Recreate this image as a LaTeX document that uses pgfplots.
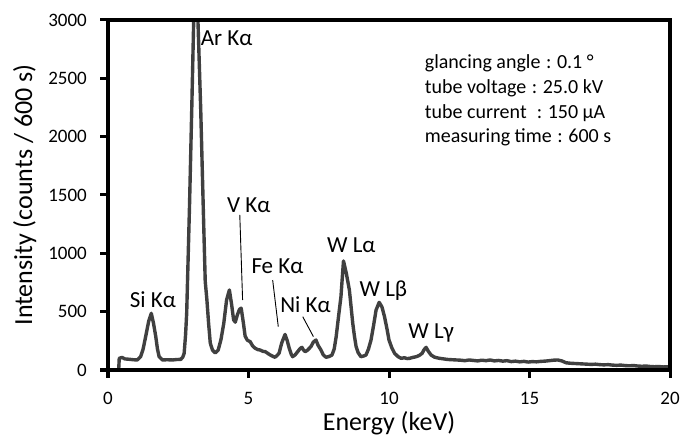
\documentclass[border=0pt]{standalone}
\usepackage{fontspec}
\setmainfont{Carlito}
\usepackage{pgfplots}
\pgfplotsset{compat=1.18}
\usetikzlibrary{calc}
\definecolor{spec}{HTML}{404040}
\tikzset{lab/.style={font=\fontsize{23bp}{27bp}\selectfont},
         cond/.style={anchor=west, inner sep=0pt, font=\fontsize{20bp}{24bp}\selectfont}}
\newcommand{\col}{\hspace{0.28em}:\hspace{0.28em}}

\begin{document}
\begin{tikzpicture}
\begin{axis}[
  name=spec,
  scale only axis, width=562bp, height=350bp,
  xmin=0, xmax=20, ymin=0, ymax=3000,
  xtick={0,5,...,20}, ytick={0,500,...,3000},
  xtick pos=left, ytick pos=left,
  major tick length=0pt,
  axis line style={draw=none},
  /pgf/number format/assume math mode=true,
  /pgf/number format/1000 sep={},
  ticklabel style={font=\fontsize{19bp}{22bp}\selectfont},
  xticklabel style={anchor=north, inner sep=0pt, yshift=-22bp},
  yticklabel style={anchor=east, inner sep=0pt, xshift=-21bp},
  xlabel={Energy (keV)}, ylabel={Intensity (counts / 600 s)},
  label style={font=\fontsize{26bp}{30bp}\selectfont},
  xlabel style={at={(axis description cs:0.5,-0.153)}, anchor=center},
  ylabel style={at={(axis description cs:-0.148,0.5)}, anchor=center},
]
\addplot[spec, line width=3.4bp, line join=round] coordinates {
(0.00,0)(0.30,0)(0.38,0)(0.40,100)(0.50,108)(0.60,95)(0.75,92)(0.90,88)
(1.04,86)(1.16,114)(1.25,180)(1.34,286)(1.45,420)(1.54,486)(1.62,400)
(1.70,286)(1.76,180)(1.82,114)(1.94,86)(2.10,88)(2.30,86)(2.45,90)
(2.59,91)(2.66,110)(2.71,143)(2.76,300)(2.80,486)(2.90,1400)(2.98,2230)
(3.05,3000)(3.12,3350)(3.20,3000)(3.30,2230)(3.40,1300)(3.46,760)
(3.52,600)(3.58,400)(3.64,230)(3.72,170)(3.82,146)(3.92,170)(4.02,260)
(4.12,400)(4.22,600)(4.32,686)(4.40,560)(4.47,430)(4.53,410)(4.60,470)
(4.68,520)(4.74,530)(4.82,400)(4.88,290)(4.96,255)(5.06,243)(5.15,205)
(5.24,186)(5.33,175)(5.42,171)(5.51,160)(5.60,157)(5.70,140)(5.78,128)
(5.86,118)(5.94,109)(6.02,125)(6.09,145)(6.18,230)(6.30,305)(6.38,250)
(6.45,186)(6.52,135)(6.57,114)(6.66,130)(6.75,157)(6.84,185)(6.90,194)
(6.96,170)(7.02,157)(7.10,170)(7.22,200)(7.31,240)(7.40,257)(7.48,210)
(7.58,171)(7.66,130)(7.76,109)(7.86,115)(7.97,128)(8.05,180)(8.12,286)
(8.20,450)(8.29,629)(8.38,935)(8.48,830)(8.59,686)(8.66,520)(8.71,400)
(8.77,290)(8.83,200)(8.90,150)(9.00,114)(9.10,120)(9.18,128)(9.27,180)
(9.36,257)(9.45,380)(9.54,514)(9.65,580)(9.75,540)(9.84,457)(9.93,350)
(10.00,257)(10.10,190)(10.20,143)(10.32,115)(10.43,100)(10.55,105)
(10.64,98)(10.73,100)(10.85,108)(10.97,114)(11.08,125)(11.18,143)
(11.25,175)(11.32,194)(11.40,160)(11.50,128)(11.62,110)(11.72,104)
(11.80,100)(11.95,95)(12.10,90)(12.25,88)(12.40,86)(12.55,84)(12.70,80)
(12.85,86)(13.00,82)(13.15,78)(13.30,84)(13.45,80)(13.60,86)(13.75,78)
(13.90,82)(14.05,76)(14.20,80)(14.35,72)(14.50,76)(14.65,70)(14.80,74)
(14.95,68)(15.10,72)(15.25,70)(15.40,74)(15.55,76)(15.70,80)(15.85,84)
(16.00,86)(16.15,78)(16.30,62)(16.45,58)(16.60,56)(16.75,54)(16.90,52)
(17.05,50)(17.20,48)(17.35,50)(17.50,46)(17.65,44)(17.80,46)(17.95,42)
(18.10,40)(18.25,42)(18.40,38)(18.55,36)(18.70,38)(18.85,34)(19.00,32)
(19.15,34)(19.30,30)(19.45,28)(19.60,30)(19.75,26)(19.90,28)(20.00,24)
};
% peak labels
\node[lab] at (axis cs:1.6,600) {Si Kα};
\node[lab, anchor=west, inner sep=0pt] at (axis cs:3.3,2840) {Ar Kα};
\node[lab] at (axis cs:5.01,1414) {V Kα};
\node[lab] at (axis cs:6.03,891) {Fe Kα};
\node[lab] at (axis cs:7.03,557) {Ni Kα};
\node[lab] at (axis cs:8.66,1067) {W Lα};
\node[lab] at (axis cs:9.80,681) {W Lβ};
\node[lab] at (axis cs:11.5,317) {W Lγ};
\draw[black, line width=0.9bp] (axis cs:4.69,1329) -- (axis cs:4.79,600);
\draw[black, line width=0.9bp] (axis cs:5.86,771) -- (axis cs:6.06,371);
\draw[black, line width=0.9bp] (axis cs:6.93,457) -- (axis cs:7.31,286);
% measurement conditions
\node[cond] at (axis cs:11.27,2631) {glancing angle\col0.1 °};
\node[cond] at (axis cs:11.27,2417) {tube voltage\col25.0 kV};
\node[cond] at (axis cs:11.27,2203) {tube current\ \col150 μA};
\node[cond] at (axis cs:11.27,1997) {measuring time\col600 s};
\end{axis}
% frame and outward ticks
\draw[black, line width=3.2bp] (spec.south west) rectangle (spec.north east);
\foreach \k in {0,...,6}
  \draw[black, line width=3bp] ($(spec.south west)!\k/6!(spec.north west)$) -- ++(-8bp,0);
\foreach \k in {0,...,4}
  \draw[black, line width=3bp] ($(spec.south west)!\k/4!(spec.south east)$) -- ++(0,-8bp);
\pgfresetboundingbox
\path[use as bounding box] ([shift={(-108bp,-69bp)}]spec.south west) rectangle ([shift={(13bp,20bp)}]spec.north east);
\end{tikzpicture}
\end{document}
